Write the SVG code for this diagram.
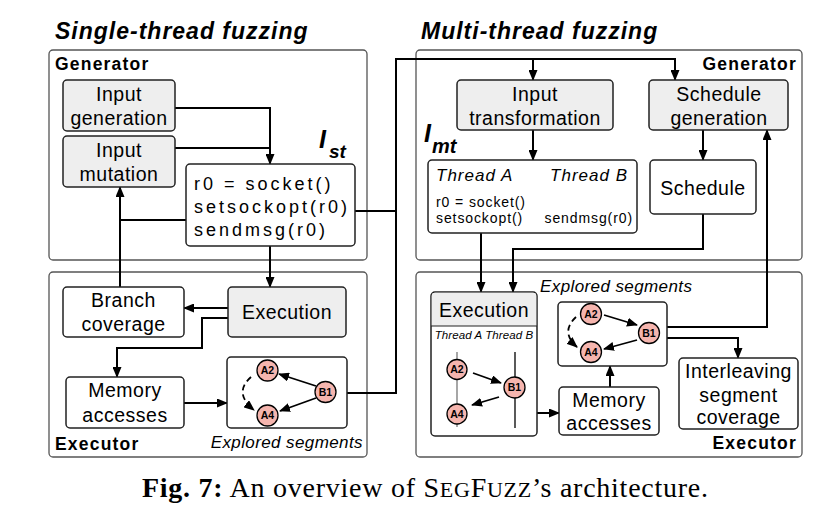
<svg xmlns="http://www.w3.org/2000/svg" width="837" height="519" viewBox="0 0 837 519">
<defs>
<marker id="ah" markerUnits="userSpaceOnUse" markerWidth="11" markerHeight="9" refX="10" refY="4.5" orient="auto">
<path d="M0,0 L11,4.5 L0,9 z" fill="#000"/>
</marker>
<marker id="ahs" markerUnits="userSpaceOnUse" markerWidth="11" markerHeight="9" refX="10" refY="4.5" orient="auto">
<path d="M0,0 L11,4.5 L0,9 z" fill="#000"/>
</marker>
<style>
.panel{fill:#fff;stroke:#555;stroke-width:1.3}
.node{fill:#fff;stroke:#222;stroke-width:1.5}
.gray{fill:#eeeeee}
.t{font-family:"Liberation Sans",Arial,sans-serif;font-size:19.5px;letter-spacing:0.5px;fill:#000;text-anchor:middle}
.title{font-family:"Liberation Sans",Arial,sans-serif;font-size:23px;font-weight:bold;font-style:italic;letter-spacing:1px}
.sec{font-family:"Liberation Sans",Arial,sans-serif;font-size:17.5px;font-weight:bold;letter-spacing:1.2px}
.it{font-family:"Liberation Sans",Arial,sans-serif;font-style:italic}
.code{font-family:"Liberation Sans",Arial,sans-serif;font-size:18px;letter-spacing:3px}
.small{font-family:"Liberation Sans",Arial,sans-serif;font-size:14px;letter-spacing:0.9px}
.bi{font-family:"Liberation Sans",Arial,sans-serif;font-weight:bold;font-style:italic}
.ev{fill:#f5b5ae;stroke:#000;stroke-width:1.3}
.evt{font-family:"Liberation Sans",Arial,sans-serif;font-size:10.5px;font-weight:bold;text-anchor:middle}
.c{fill:none;stroke:#000;stroke-width:2}
.ca{fill:none;stroke:#000;stroke-width:1.8}
.cd{fill:none;stroke:#000;stroke-width:1.8;stroke-dasharray:6,4}
</style>
</defs>

<!-- panels -->
<g id="st-generator"><rect class="panel" x="49" y="50" width="318" height="210" rx="4"/><text class="sec" x="55" y="70">Generator</text></g>
<g id="st-executor"><rect class="panel" x="49" y="272" width="318" height="185" rx="4"/><text class="sec" x="55" y="450">Executor</text><text class="it" x="363" y="448" font-size="17" letter-spacing="0.4" text-anchor="end">Explored segments</text></g>
<g id="mt-generator"><rect class="panel" x="416" y="50" width="386" height="210" rx="4"/><text class="sec" x="797" y="70" text-anchor="end">Generator</text></g>
<g id="mt-executor"><rect class="panel" x="416" y="272" width="386" height="185" rx="4"/><text class="sec" x="797" y="449" text-anchor="end">Executor</text><text class="it" x="540" y="292" font-size="17" letter-spacing="0.4">Explored segments</text></g>

<text class="title" x="55" y="39">Single-thread fuzzing</text>
<text class="title" x="421" y="39">Multi-thread fuzzing</text>

<!-- connectors -->
<g id="connectors">
<path class="c" d="M175,108 H270 V164" marker-end="url(#ah)"/>
<path class="c" d="M175,148 H270"/>
<path class="c" d="M186,220 H120"/>
<path class="c" d="M120,287 V187" marker-end="url(#ah)"/>
<path class="c" d="M270,246 V287" marker-end="url(#ah)"/>
<path class="c" d="M355,211 H396"/>
<path class="c" d="M347,393 H396 V59 H675 V80" marker-end="url(#ah)"/>
<path class="c" d="M533,59 V80" marker-end="url(#ah)"/>
<path class="c" d="M228,308 H184" marker-end="url(#ah)"/>
<path class="c" d="M228,318 H202 V348 H117 V377" marker-end="url(#ah)"/>
<path class="c" d="M184,403 H227" marker-end="url(#ah)"/>
<path class="c" d="M533,130 V160" marker-end="url(#ah)"/>
<path class="c" d="M703,130 V160" marker-end="url(#ah)"/>
<path class="c" d="M481,233 V292" marker-end="url(#ah)"/>
<path class="c" d="M703,214 V249 H513 V292" marker-end="url(#ah)"/>
<path class="c" d="M667,327 H767 V130" marker-end="url(#ah)"/>
<path class="c" d="M667,338 H738 V358" marker-end="url(#ah)"/>
<path class="c" d="M537,413 H559" marker-end="url(#ah)"/>
<path class="c" d="M610,387 V366" marker-end="url(#ah)"/>
</g>

<!-- single-thread nodes -->
<g id="input-generation"><rect class="node gray" x="63" y="80" width="112" height="51" rx="4"/><text class="t" x="119" y="101">Input</text><text class="t" x="119" y="125">generation</text></g>
<g id="input-mutation"><rect class="node gray" x="63" y="136" width="112" height="51" rx="4"/><text class="t" x="119" y="157">Input</text><text class="t" x="119" y="181">mutation</text></g>
<g id="ist-program"><rect class="node" x="186" y="164" width="169" height="82" rx="4"/><text class="code" x="194" y="190">r0 = socket()</text><text class="code" x="194" y="213">setsockopt(r0)</text><text class="code" x="194" y="236">sendmsg(r0)</text></g>
<g id="ist-label"><text class="bi" x="319" y="148" font-size="25">I</text><text class="bi" x="329" y="158" font-size="19">st</text></g>
<g id="branch-coverage"><rect class="node" x="63" y="287" width="121" height="50" rx="4"/><text class="t" x="123.5" y="307">Branch</text><text class="t" x="123.5" y="331">coverage</text></g>
<g id="st-execution"><rect class="node gray" x="228" y="287" width="118" height="50" rx="4"/><text class="t" x="287" y="319">Execution</text></g>
<g id="st-memory"><rect class="node" x="66" y="377" width="118" height="51" rx="4"/><text class="t" x="125" y="397">Memory</text><text class="t" x="125" y="422">accesses</text></g>
<g id="st-explored">
<rect class="node" x="227" y="357" width="120" height="71" rx="4"/>
<path class="ca" d="M316,386 L279,374" marker-end="url(#ahs)"/>
<path class="ca" d="M316,398 L280,411" marker-end="url(#ahs)"/>
<path class="cd" d="M251,377 Q233,393 254,410" marker-end="url(#ahs)"/>
<circle class="ev" cx="267.5" cy="370.5" r="10.5"/><text class="evt" x="267.5" y="374.3">A2</text>
<circle class="ev" cx="267.5" cy="415.5" r="10.5"/><text class="evt" x="267.5" y="419.3">A4</text>
<circle class="ev" cx="325.5" cy="392" r="10.5"/><text class="evt" x="325.5" y="395.8">B1</text>
</g>

<!-- multi-thread nodes -->
<g id="input-transformation"><rect class="node gray" x="457" y="80" width="156" height="50" rx="4"/><text class="t" x="535" y="101">Input</text><text class="t" x="535" y="125">transformation</text></g>
<g id="schedule-generation"><rect class="node gray" x="649" y="80" width="139" height="50" rx="4"/><text class="t" x="719" y="101">Schedule</text><text class="t" x="719" y="125">generation</text></g>
<g id="imt-label"><text class="bi" x="424" y="142" font-size="25">I</text><text class="bi" x="432" y="153" font-size="20">mt</text></g>
<g id="imt-program"><rect class="node" x="428" y="160" width="209" height="73" rx="4"/>
<text class="it" x="436" y="181" font-size="17" letter-spacing="1">Thread A</text>
<text class="it" x="628" y="181" font-size="17" letter-spacing="1" text-anchor="end">Thread B</text>
<text class="small" x="436" y="207">r0 = socket()</text>
<text class="small" x="436" y="223">setsockopt()</text>
<text class="small" x="633" y="223" text-anchor="end">sendmsg(r0)</text>
</g>
<g id="schedule"><rect class="node" x="650" y="160" width="106" height="54" rx="4"/><text class="t" x="703" y="195">Schedule</text></g>
<g id="mt-execution">
<rect class="node" x="431" y="292" width="106" height="144" rx="4"/>
<path d="M431.75,326 V296 Q431.75,292.75 435,292.75 H533 Q536.25,292.75 536.25,296 V326 Z" fill="#eeeeee"/>
<line x1="431" y1="326" x2="537" y2="326" stroke="#222" stroke-width="1.2"/>
<text class="t" x="484" y="317">Execution</text>
<text class="it" x="484" y="339" font-size="11.5" letter-spacing="0.1" text-anchor="middle">Thread A Thread B</text>
<line x1="457" y1="352" x2="457" y2="427" stroke="#777" stroke-width="1.3"/>
<line x1="515" y1="352" x2="515" y2="428" stroke="#000" stroke-width="1.3"/>
<path class="ca" d="M473,373 L501,383" marker-end="url(#ahs)"/>
<path class="ca" d="M499,397 L472,405" marker-end="url(#ahs)"/>
<circle class="ev" cx="457" cy="369.5" r="10"/><text class="evt" x="457" y="373.3">A2</text>
<circle class="ev" cx="457" cy="414" r="10"/><text class="evt" x="457" y="417.8">A4</text>
<circle class="ev" cx="514.5" cy="387.5" r="10.5"/><text class="evt" x="514.5" y="391.3">B1</text>
</g>
<g id="mt-explored">
<rect class="node" x="558" y="302" width="109" height="64" rx="4"/>
<path class="ca" d="M604,315 L637,325" marker-end="url(#ahs)"/>
<path class="ca" d="M637,340 L604,349" marker-end="url(#ahs)"/>
<path class="cd" d="M576,317 Q560,332 577,347" marker-end="url(#ahs)"/>
<circle class="ev" cx="591" cy="314" r="10.5"/><text class="evt" x="591" y="317.8">A2</text>
<circle class="ev" cx="649" cy="333" r="10.5"/><text class="evt" x="649" y="336.8">B1</text>
<circle class="ev" cx="591" cy="352" r="10.5"/><text class="evt" x="591" y="355.8">A4</text>
</g>
<g id="mt-memory"><rect class="node" x="559" y="387" width="100" height="48" rx="4"/><text class="t" x="609" y="407">Memory</text><text class="t" x="609" y="430">accesses</text></g>
<g id="interleaving"><rect class="node" x="679" y="358" width="119" height="71" rx="4"/><text class="t" x="738.5" y="378">Interleaving</text><text class="t" x="738.5" y="402">segment</text><text class="t" x="738.5" y="424">coverage</text></g>

<!-- caption -->
<text x="142" y="497" font-family="'Liberation Serif','Times New Roman',serif" font-size="28" textLength="566" lengthAdjust="spacing"><tspan font-weight="bold">Fig. 7:</tspan> An overview of S<tspan font-size="22">EG</tspan>F<tspan font-size="22">UZZ</tspan>’s architecture.</text>
</svg>
